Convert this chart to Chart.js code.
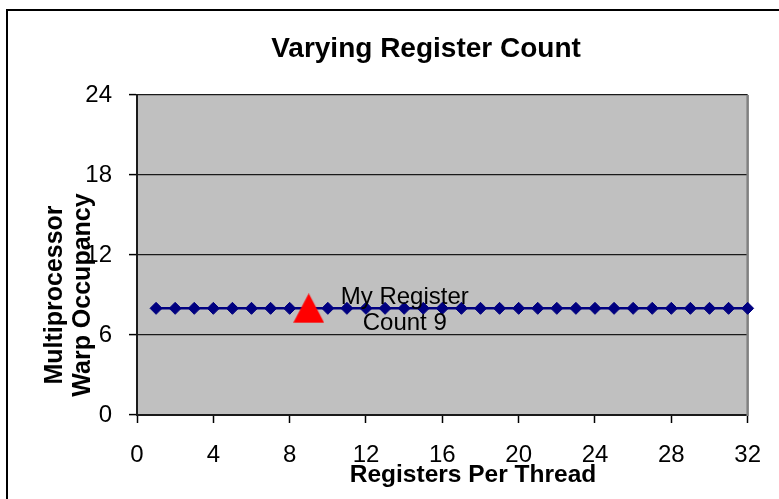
<!DOCTYPE html>
<html>
<head>
<meta charset="utf-8">
<script src="https://cdn.jsdelivr.net/npm/chart.js@4/dist/chart.umd.min.js"></script>
<style>
  html, body { margin: 0; padding: 0; background: #ffffff; }
  #wrap { position: relative; width: 779px; height: 499px; }
</style>
</head>
<body>
<div id="wrap"><canvas id="c" width="779" height="499"></canvas></div>
<script>
// ---- data ----
const chartTitle = "Varying Register Count";
const xTitle = "Registers Per Thread";
const yTitleLines = ["Multiprocessor", "Warp Occupancy"];
const registersPerThread = [1, 2, 3, 4, 5, 6, 7, 8, 9, 10, 11, 12, 13, 14, 15, 16,
                            17, 18, 19, 20, 21, 22, 23, 24, 25, 26, 27, 28, 29, 30, 31, 32];
const warpOccupancy = [8, 8, 8, 8, 8, 8, 8, 8, 8, 8, 8, 8, 8, 8, 8, 8,
                       8, 8, 8, 8, 8, 8, 8, 8, 8, 8, 8, 8, 8, 8, 8, 8];
const myRegisterCount = [9];
const myOccupancy = [8];
const myLabelLines = ["My Register", "Count 9"];
const xTickValues = [0, 4, 8, 12, 16, 20, 24, 28, 32];
const yTickValues = [0, 6, 12, 18, 24];

// ---- triangle marker image ----
const tri = document.createElement('canvas');
tri.width = 31; tri.height = 30;
(function () {
  const g = tri.getContext('2d');
  g.fillStyle = '#ff0000';
  g.beginPath();
  g.moveTo(15.5, 0);
  g.lineTo(31, 29.5);
  g.lineTo(0, 29.5);
  g.closePath();
  g.fill();
})();

const FONT = "'Liberation Sans', Arial, sans-serif";

const decor = {
  id: 'decor',
  beforeDraw(chart) {
    const ctx = chart.ctx, a = chart.chartArea;
    ctx.save();
    ctx.fillStyle = '#ffffff';
    ctx.fillRect(0, 0, chart.width, chart.height);
    ctx.strokeStyle = '#000000';
    ctx.lineWidth = 2;
    ctx.strokeRect(7, 10, chart.width + 20, chart.height + 20);
    ctx.fillStyle = '#c0c0c0';
    ctx.fillRect(a.left, a.top, a.right - a.left, a.bottom - a.top);
    ctx.restore();
  },
  beforeDatasetsDraw(chart) {
    const ctx = chart.ctx, a = chart.chartArea;
    ctx.save();
    ctx.strokeStyle = '#808080';
    ctx.lineWidth = 2.5;
    ctx.beginPath();
    ctx.moveTo(a.right, a.top);
    ctx.lineTo(a.right, a.bottom + 1);
    ctx.stroke();
    ctx.restore();
  },
  afterDraw(chart) {
    const ctx = chart.ctx, a = chart.chartArea;
    ctx.save();
    ctx.fillStyle = '#000000';
    // chart title
    ctx.font = "bold 28px " + FONT;
    ctx.textAlign = 'center';
    ctx.textBaseline = 'alphabetic';
    ctx.fillText(chartTitle, 426, 57);
    // x axis title
    ctx.font = "bold 24.5px " + FONT;
    ctx.fillText(xTitle, a.left + 336, a.bottom + 67);
    // y axis title (rotated, two lines)
    ctx.font = "bold 25px " + FONT;
    const cy = a.top + 200;
    [62, 90].forEach((bx, i) => {
      ctx.save();
      ctx.translate(bx, cy);
      ctx.rotate(-Math.PI / 2);
      ctx.fillText(yTitleLines[i], 0, 0);
      ctx.restore();
    });
    // data label for my register count
    const pt = chart.getDatasetMeta(0).data[0];
    ctx.font = "24px " + FONT;
    ctx.fillText(myLabelLines[0], pt.x + 96, pt.y - 4);
    ctx.fillText(myLabelLines[1], pt.x + 96, pt.y + 22);
    ctx.restore();
  }
};

new Chart(document.getElementById('c'), {
  type: 'line',
  data: {
    datasets: [
      {
        label: 'My Register Count',
        data: myRegisterCount.map((x, i) => ({ x: x, y: myOccupancy[i] })),
        showLine: false,
        pointStyle: tri,
        pointRadius: 15,
        pointHoverRadius: 15,
        clip: false
      },
      {
        label: 'Occupancy',
        data: registersPerThread.map((x, i) => ({ x: x, y: warpOccupancy[i] })),
        borderColor: '#000080',
        borderWidth: 2.5,
        backgroundColor: '#000080',
        pointStyle: 'rectRot',
        pointRadius: 6,
        pointHoverRadius: 6,
        pointBorderWidth: 1,
        pointBorderColor: '#000080',
        pointBackgroundColor: '#000080',
        tension: 0,
        clip: false
      }
    ]
  },
  options: {
    responsive: false,
    animation: false,
    events: [],
    layout: { padding: { left: 0, right: 29, top: 95, bottom: 0 } },
    plugins: {
      legend: { display: false },
      title: { display: false },
      tooltip: { enabled: false }
    },
    scales: {
      x: {
        type: 'linear',
        min: 0,
        max: 32,
        afterBuildTicks(scale) { scale.ticks = xTickValues.map(v => ({ value: v })); },
        afterFit(scale) { scale.height = 84; },
        ticks: {
          color: '#000000',
          font: { family: FONT, size: 24 },
          padding: 18,
          maxRotation: 0,
          autoSkip: false
        },
        grid: {
          drawOnChartArea: false,
          drawTicks: true,
          tickLength: 8,
          color: '#000000',
          tickColor: '#000000',
          tickWidth: 1.5
        },
        border: { display: true, color: '#1a1a1a', width: 2 }
      },
      y: {
        type: 'linear',
        min: 0,
        max: 24,
        afterBuildTicks(scale) { scale.ticks = yTickValues.map(v => ({ value: v })); },
        afterFit(scale) { scale.width = 137; },
        ticks: {
          color: '#000000',
          font: { family: FONT, size: 24 },
          padding: 17,
          autoSkip: false
        },
        grid: {
          drawOnChartArea: true,
          drawTicks: true,
          tickLength: 8,
          color: '#1a1a1a',
          lineWidth: 1.2,
          tickColor: '#000000',
          tickWidth: 1.5
        },
        border: { display: true, color: '#1a1a1a', width: 2 }
      }
    }
  },
  plugins: [decor]
});
</script>
</body>
</html>
